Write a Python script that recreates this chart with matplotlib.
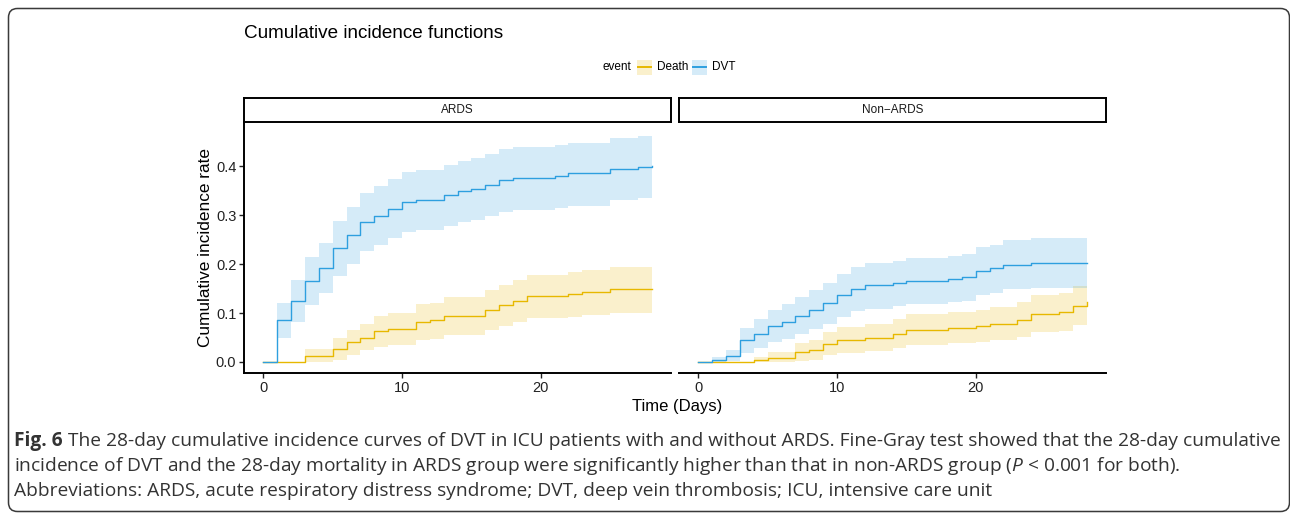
import matplotlib
matplotlib.use('Agg')
import matplotlib.pyplot as plt
from matplotlib.patches import FancyBboxPatch, Rectangle
from matplotlib.lines import Line2D
from matplotlib.transforms import IdentityTransform

plt.rcParams['font.family'] = ['Liberation Sans', 'DejaVu Sans']
plt.rcParams['mathtext.fontset'] = 'custom'
plt.rcParams['mathtext.rm'] = 'Open Sans'
plt.rcParams['mathtext.it'] = 'Open Sans:italic'
plt.rcParams['mathtext.bf'] = 'Open Sans:bold'

# ---- data (step functions, value holds until next time) ----
ards_dvt_t = [0, 1, 2, 3, 4, 5, 6, 7, 8, 9, 10, 11, 13, 14, 15, 16, 17, 18, 21, 22, 25, 27, 28]
ards_dvt_est = [0, 0.085, 0.125, 0.165, 0.192, 0.232, 0.259, 0.286, 0.299, 0.313, 0.327, 0.331,
                0.340, 0.349, 0.353, 0.362, 0.371, 0.375, 0.379, 0.385, 0.394, 0.398, 0.400]
ards_dvt_hi = [0, 0.121, 0.167, 0.214, 0.243, 0.288, 0.316, 0.345, 0.359, 0.373, 0.388, 0.392,
               0.402, 0.411, 0.416, 0.425, 0.434, 0.439, 0.444, 0.448, 0.457, 0.462, 0.462]
ards_dvt_lo = [0, 0.048, 0.081, 0.117, 0.140, 0.176, 0.201, 0.226, 0.239, 0.253, 0.265, 0.269,
               0.277, 0.286, 0.290, 0.298, 0.306, 0.310, 0.314, 0.319, 0.330, 0.334, 0.334]

ards_death_t = [0, 3, 5, 6, 7, 8, 9, 11, 12, 13, 16, 17, 18, 19, 22, 23, 25, 28]
ards_death_est = [0, 0.013, 0.027, 0.040, 0.049, 0.063, 0.067, 0.081, 0.085, 0.094, 0.107, 0.117,
                  0.125, 0.135, 0.139, 0.143, 0.148, 0.150]
ards_death_hi = [0, 0.027, 0.049, 0.065, 0.077, 0.094, 0.100, 0.118, 0.121, 0.132, 0.147, 0.157,
                 0.167, 0.178, 0.183, 0.188, 0.194, 0.194]
ards_death_lo = [0, 0.000, 0.005, 0.014, 0.024, 0.031, 0.035, 0.044, 0.047, 0.055, 0.066, 0.074,
                 0.081, 0.089, 0.092, 0.096, 0.100, 0.100]

non_dvt_t = [0, 1, 2, 3, 4, 5, 6, 7, 8, 9, 10, 11, 12, 14, 15, 18, 19, 20, 21, 22, 24, 28]
non_dvt_est = [0, 0.004, 0.012, 0.045, 0.057, 0.074, 0.082, 0.094, 0.107, 0.120, 0.137, 0.149,
               0.158, 0.161, 0.165, 0.170, 0.174, 0.186, 0.191, 0.199, 0.202, 0.202]
non_dvt_hi = [0, 0.011, 0.025, 0.070, 0.087, 0.107, 0.118, 0.132, 0.146, 0.161, 0.179, 0.194,
              0.202, 0.207, 0.212, 0.217, 0.221, 0.235, 0.239, 0.249, 0.254, 0.254]
non_dvt_lo = [0, 0.000, 0.001, 0.019, 0.028, 0.040, 0.046, 0.057, 0.067, 0.078, 0.092, 0.104,
              0.109, 0.114, 0.118, 0.122, 0.125, 0.137, 0.140, 0.148, 0.152, 0.152]

non_death_t = [0, 4, 5, 7, 8, 9, 10, 12, 14, 15, 18, 20, 21, 23, 24, 26, 27, 28]
non_death_est = [0, 0.004, 0.008, 0.021, 0.025, 0.037, 0.045, 0.049, 0.057, 0.066, 0.069, 0.073,
                 0.078, 0.086, 0.098, 0.103, 0.115, 0.123]
non_death_hi = [0, 0.011, 0.020, 0.039, 0.044, 0.061, 0.071, 0.077, 0.087, 0.098, 0.102, 0.107,
                0.112, 0.122, 0.137, 0.141, 0.155, 0.155]
non_death_lo = [0, 0.000, 0.000, 0.002, 0.005, 0.014, 0.019, 0.022, 0.028, 0.034, 0.038, 0.040,
                0.044, 0.051, 0.062, 0.064, 0.075, 0.075]

panels = ['ARDS', 'Non\u2212ARDS']
events = ['Death', 'DVT']
colors = {'Death': '#E7B800', 'DVT': '#2E9FDF'}
yticks = [0.0, 0.1, 0.2, 0.3, 0.4]
xticks = [0, 10, 20]

curves = {
    ('ARDS', 'Death'): (ards_death_t, ards_death_est, ards_death_lo, ards_death_hi),
    ('ARDS', 'DVT'): (ards_dvt_t, ards_dvt_est, ards_dvt_lo, ards_dvt_hi),
    (panels[1], 'Death'): (non_death_t, non_death_est, non_death_lo, non_death_hi),
    (panels[1], 'DVT'): (non_dvt_t, non_dvt_est, non_dvt_lo, non_dvt_hi),
}

W, H = 1290, 515
fig = plt.figure(figsize=(W / 100, H / 100), dpi=100)
px = IdentityTransform()  # pixel coords, origin bottom-left

# outer rounded frame
fig.patches.append(FancyBboxPatch((8.5, 3.5), 1281, 503, boxstyle='round,pad=0,rounding_size=9',
                                  transform=px, fill=False, ec='#3a3a3a', lw=1.1))

px_left = [244, 679]
pw = 427
top, bottom = 122, 373
for i, panel in enumerate(panels):
    ax = fig.add_axes([px_left[i] / W, (H - bottom) / H, pw / W, (bottom - top) / H])
    for ev in events:
        t, est, lo, hi = curves[(panel, ev)]
        ax.fill_between(t, lo, hi, step='post', color=colors[ev], alpha=0.2, lw=0)
        ax.step(t, est, where='post', color=colors[ev], lw=1.0)
    ax.set_xlim(-1.4, 29.4)
    ax.set_ylim(-0.0225, 0.49)
    ax.set_xticks(xticks)
    ax.set_yticks(yticks)
    for s in ['top', 'right']:
        ax.spines[s].set_visible(False)
    ax.spines['bottom'].set_linewidth(1.4)
    ax.spines['left'].set_linewidth(1.4)
    ax.tick_params(length=3.5, width=1.0, color='#222222', labelsize=10.5, labelcolor='#222222', pad=2)
    if i == 0:
        ax.set_yticklabels(['%.1f' % v for v in yticks])
        ax.set_ylabel('Cumulative incidence rate', fontsize=12.4, labelpad=2)
    else:
        ax.spines['left'].set_visible(False)
        ax.tick_params(axis='y', left=False, labelleft=False)

    # facet strip
    sax = fig.add_axes([px_left[i] / W, (H - top) / H, pw / W, 24 / H])
    sax.set_xticks([])
    sax.set_yticks([])
    for s in sax.spines.values():
        s.set_linewidth(1.4)
    sax.text(0.5, 0.5, panel, ha='center', va='center', fontsize=8.5, color='#1a1a1a',
             transform=sax.transAxes)

fig.text(677 / W, (H - 407) / H, 'Time (Days)', ha='center', va='center', fontsize=12)
fig.text(244 / W, (H - 33) / H, 'Cumulative incidence functions', ha='left', va='center', fontsize=13.6)

# legend (ggplot style: title on the left, square keys with line)
leg_y = H - 67
fig.text(631 / W, leg_y / H, 'event', ha='right', va='center', fontsize=8.5)
key_x = [637, 692]
for ev, kx in zip(events, key_x):
    fig.patches.append(Rectangle((kx, leg_y - 7.5), 15, 15, transform=px, fc=colors[ev], alpha=0.2, lw=0))
    fig.lines.append(Line2D([kx + 1, kx + 14], [leg_y, leg_y], transform=px, color=colors[ev], lw=1.4))
    fig.text((kx + 20) / W, leg_y / H, ev, ha='left', va='center', fontsize=8.5)

# caption
cap_lines = [
    'The 28-day cumulative incidence curves of DVT in ICU patients with and without ARDS. '
    'Fine-Gray test showed that the 28-day cumulative',
    r'incidence of DVT and the 28-day mortality in ARDS group were significantly higher than that in '
    r'non-ARDS group ($P$ < 0.001 for both).',
    'Abbreviations: ARDS, acute respiratory distress syndrome; DVT, deep vein thrombosis; ICU, intensive care unit',
]
cap_base = [446, 471, 496]
cap_kw = dict(ha='left', va='baseline', family='Open Sans', color='#333333')
fig_lbl = fig.text(14 / W, (H - cap_base[0]) / H, 'Fig. 6', weight='bold', **cap_kw)
rest1 = fig.text(0, (H - cap_base[0]) / H, ' ' + cap_lines[0], **cap_kw)
others = [fig.text(14 / W, (H - y) / H, s, **cap_kw) for s, y in zip(cap_lines[1:], cap_base[1:])]


def place_caption(size):
    for t in [fig_lbl, rest1] + others:
        t.set_fontsize(size)
    fig.canvas.draw()
    bb = fig_lbl.get_window_extent()
    rest1.set_x(bb.x1 / W)
    fig.canvas.draw()
    return rest1.get_window_extent().x1 - bb.x0


size = 12
for _ in range(3):
    size = size * 1261 / place_caption(size)
place_caption(size)

fig.savefig('out.png', dpi=100)
